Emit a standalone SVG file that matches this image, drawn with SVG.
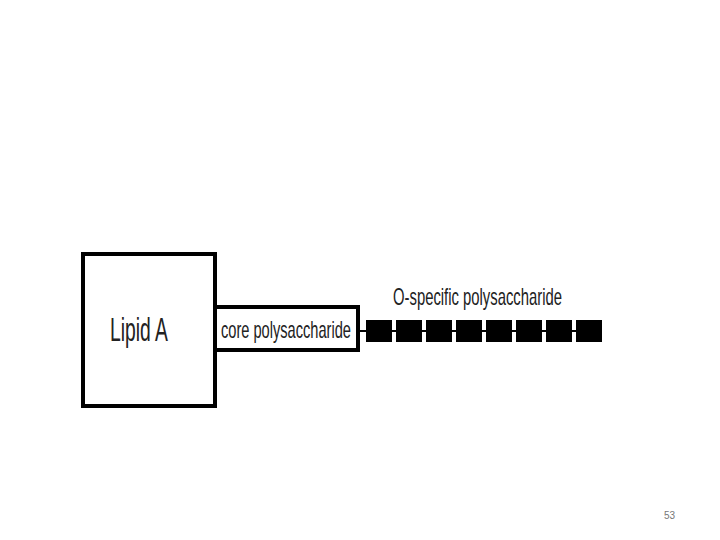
<svg xmlns="http://www.w3.org/2000/svg" width="720" height="540" viewBox="0 0 720 540">
<style>
.box{fill:#fff;stroke:#000;stroke-width:4}
.lbl{font-family:"Liberation Sans",Arial,sans-serif;fill:#222}
.unit{fill:#000}
</style>
<rect width="720" height="540" fill="#fff"/>
<g id="connectors">
<line x1="358" y1="331" x2="602" y2="331" stroke="#000" stroke-width="2"/>
</g>
<g id="lipidA">
<rect class="box" x="83" y="254" width="132" height="152"/>
<text class="lbl" x="110" y="341" font-size="33" textLength="58" lengthAdjust="spacingAndGlyphs">Lipid A</text>
</g>
<g id="core">
<rect class="box" x="215" y="307" width="143" height="43"/>
<text class="lbl" x="221" y="338" font-size="24" textLength="130" lengthAdjust="spacingAndGlyphs">core polysaccharide</text>
</g>
<g id="ospecific">
<text class="lbl" x="393" y="305" font-size="24" textLength="169" lengthAdjust="spacingAndGlyphs">O-specific polysaccharide</text>
<rect class="unit" x="366" y="320" width="26" height="22"/>
<rect class="unit" x="396" y="320" width="26" height="22"/>
<rect class="unit" x="426" y="320" width="26" height="22"/>
<rect class="unit" x="456" y="320" width="26" height="22"/>
<rect class="unit" x="486" y="320" width="26" height="22"/>
<rect class="unit" x="516" y="320" width="26" height="22"/>
<rect class="unit" x="546" y="320" width="26" height="22"/>
<rect class="unit" x="576" y="320" width="26" height="22"/>
</g>
<text x="664" y="519" font-family="'Liberation Sans',Arial,sans-serif" font-size="10" fill="#777">53</text>
</svg>
